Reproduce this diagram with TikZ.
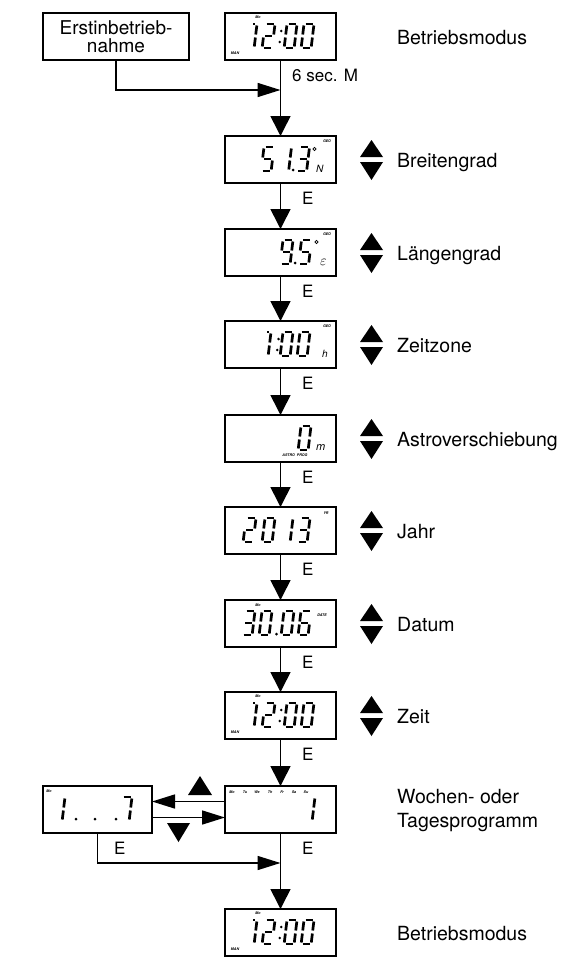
\documentclass[tikz,border=0pt]{standalone}
\usepackage{fontspec}
\setmainfont{TeX Gyre Heros}
\usetikzlibrary{arrows.meta}
\tikzset{
 lcd/.style={draw, line width=1.6pt, minimum width=111pt, minimum height=47pt, inner sep=0pt, outer sep=0pt},
 txtbox/.style={draw, line width=1.6pt, minimum width=146pt, minimum height=47pt, inner sep=0pt, outer sep=0pt, align=center, font=\fontsize{19}{18}\selectfont},
 lbl/.style={anchor=base west, inner sep=0pt, font=\fontsize{19.5}{24}\selectfont},
 elbl/.style={anchor=base west, inner sep=0pt, font=\fontsize{17}{17}\selectfont},
 conn/.style={line width=1.6pt},
 varrow/.style={conn, -{Triangle[length=20pt,width=20pt]}},
 harrow/.style={conn, -{Triangle[length=23pt,width=14pt]}},
 lcdseg/.style={line width=2.7pt, line cap=butt},
 tiny/.style={inner sep=0pt, font=\fontsize{3.6}{4}\selectfont\bfseries\itshape},
 unit/.style={inner sep=0pt, anchor=base west, font=\fontsize{10}{10}\selectfont\itshape},
 updn/.style={fill=black},
}
\def\lsega{\draw[lcdseg] (1.5,0)--(8.5,0);}
\def\lsegb{\draw[lcdseg] (10,1.5)--(10,10.5);}
\def\lsegc{\draw[lcdseg] (10,13.5)--(10,22.5);}
\def\lsegd{\draw[lcdseg] (1.5,24)--(8.5,24);}
\def\lsege{\draw[lcdseg] (0,13.5)--(0,22.5);}
\def\lsegf{\draw[lcdseg] (0,1.5)--(0,10.5);}
\def\lsegg{\draw[lcdseg] (1.5,12)--(8.5,12);}
\def\lsegt{\draw[lcdseg] (6.0,0)--(8.4,0);}
\newcommand\lcddigit[3]{\begin{scope}[shift={(#1,#2)},xslant=0.12]\foreach \s in {#3}{\csname lseg\s\endcsname}\end{scope}}
\newcommand\lcddot[2]{\fill (#1,#2) circle[radius=1.5pt];}
\newcommand\updown[1]{%
 \fill[updn] (360,{#1+21}) -- (383,{#1+21}) -- (371.5,{#1+4}) -- cycle;
 \fill[updn] (360,{#1+26}) -- (383,{#1+26}) -- (371.5,{#1+44}) -- cycle;}
\newcommand\clockdisp[2]{%
 \lcddigit{247}{#1+11}{t,b,c}
 \lcddigit{265}{#1+11}{a,b,g,e,d}
 \fill (281.2,{#1+18}) circle[radius=1.4pt];
 \fill (279.8,{#1+29}) circle[radius=1.4pt];
 \lcddigit{287}{#1+11}{a,b,c,d,e,f}
 \lcddigit{304}{#1+11}{a,b,c,d,e,f}
 \node[tiny] (mo#2) at (258,{#1+4.5}) {Mo};
 \node[tiny] (man#2) at (235,{#1+40.5}) {MAN};}
\begin{document}
\begin{tikzpicture}[x=1pt,y=-1pt]
\useasboundingbox (0,0) rectangle (563,961);
% boxes
\node[txtbox] (erst) at (116,36.5) {Erstinbetrieb-\\nahme};
\node[lcd] (m0) at (280.5,36.5) {};
\node[lcd] (m1) at (280.5,159.5) {};
\node[lcd] (m2) at (280.5,252.5) {};
\node[lcd] (m3) at (280.5,344.5) {};
\node[lcd] (m4) at (280.5,438.5) {};
\node[lcd] (m5) at (280.5,530.5) {};
\node[lcd] (m6) at (280.5,623.5) {};
\node[lcd] (m7) at (280.5,715.5) {};
\node[lcd] (m8) at (280.5,809.5) {};
\node[lcd] (m9) at (280.5,932.5) {};
\node[lcd, minimum width=109pt] (left) at (97.5,809.5) {};
% connectors
\coordinate (j0) at (280.5,90);
\coordinate (j9) at (280.5,863);
\draw[harrow] (erst.south) |- (j0);
\draw[varrow] (m0) -- (m1);
\draw[varrow] (m1) -- (m2);
\draw[varrow] (m2) -- (m3);
\draw[varrow] (m3) -- (m4);
\draw[varrow] (m4) -- (m5);
\draw[varrow] (m5) -- (m6);
\draw[varrow] (m6) -- (m7);
\draw[varrow] (m7) -- (m8);
\draw[varrow] (m8) -- (m9);
\draw[harrow] (left.south) |- (j9);
\draw[harrow] ([yshift=8pt]m8.west) -- ([yshift=8pt]left.east);
\draw[harrow] ([yshift=-8pt]left.east) -- ([yshift=-8pt]m8.west);
\fill[updn] (188,795) -- (212,795) -- (200,776) -- cycle;
\fill[updn] (167,823) -- (190,823) -- (178.5,842) -- cycle;
% connector labels
\node[elbl] (sec) at (292,81) {6 sec. M};
\node[elbl] (e1) at (302,204) {E};
\node[elbl] (e2) at (302,297) {E};
\node[elbl] (e3) at (302,389) {E};
\node[elbl] (e4) at (302,483) {E};
\node[elbl] (e5) at (302,575) {E};
\node[elbl] (e6) at (302,668) {E};
\node[elbl] (e7) at (302,760) {E};
\node[elbl] (e8) at (302,854) {E};
\node[elbl] (eL) at (114,854) {E};
% right labels
\node[lbl] (l0) at (397,44) {Betriebsmodus};
\node[lbl] (l1) at (397,167) {Breitengrad};
\node[lbl] (l2) at (397,260) {Längengrad};
\node[lbl] (l3) at (397,352) {Zeitzone};
\node[lbl] (l4) at (397,446) {Astroverschiebung};
\node[lbl] (l5) at (397,538) {Jahr};
\node[lbl] (l6) at (397,631) {Datum};
\node[lbl] (l7) at (397,723) {Zeit};
\node[lbl] (l8a) at (397,803) {Wochen- oder};
\node[lbl] (l8b) at (397,827) {Tagesprogramm};
\node[lbl] (l9) at (397,940) {Betriebsmodus};
% up/down keys
\updown{136}
\updown{229}
\updown{321}
\updown{415}
\updown{507}
\updown{600}
\updown{692}
% displays
\clockdisp{13}{0}
\clockdisp{692}{7}
\clockdisp{909}{9}
% Breitengrad 51.3 N
\lcddigit{264}{147}{a,f,g,c,d}
\lcddigit{281.5}{147}{b,c}
\lcddot{293}{170}
\lcddigit{299.5}{147}{a,b,g,c,d}
\draw[line width=0.7pt] (314.5,149) circle[radius=1.6pt];
\node[unit] (n1) at (316,172) {N};
\node[tiny] (geo1) at (327,141) {GEO};
% Laengengrad 9.5 E
\lcddigit{283}{240}{a,b,c,d,f,g}
\lcddot{295}{263}
\lcddigit{301.5}{240}{a,f,g,c,d}
\draw[line width=0.7pt] (316.5,242) circle[radius=1.6pt];
\node[unit, font=\fontsize{15}{15}\selectfont] (n2) at (320,265) {$\varepsilon$};
\node[tiny] (geo2) at (327,234) {GEO};
% Zeitzone 1:00 h
\lcddigit{261}{332}{t,b,c}
\fill (278.6,339) circle[radius=1.4pt];
\fill (277.2,350) circle[radius=1.4pt];
\lcddigit{283}{332}{a,b,c,d,e,f}
\lcddigit{300}{332}{a,b,c,d,e,f}
\node[unit] (n3) at (322,357) {h};
\node[tiny] (geo3) at (327,326) {GEO};
% Astro 0 m
\lcddigit{301}{426}{a,b,c,d,e,f}
\node[unit, font=\fontsize{11}{11}\selectfont\itshape] (n4) at (316,450) {m};
\node[tiny] (astro) at (295,455) {ASTRO\ \ PROG};
% Jahr 2013
\lcddigit{246}{518}{a,b,g,e,d}
\lcddigit{265}{518}{a,b,c,d,e,f}
\lcddigit{283}{518}{b,c}
\lcddigit{300}{518}{a,b,g,c,d}
\node[tiny] (yr) at (326,513) {YR};
% Datum 30.06
\lcddigit{245}{611}{a,b,g,c,d}
\lcddigit{262}{611}{a,b,c,d,e,f}
\lcddot{276.5}{634}
\lcddigit{284}{611}{a,b,c,d,e,f}
\lcddigit{301}{611}{a,f,g,e,c,d}
\node[tiny] (mo6) at (258,605) {Mo};
\node[tiny] (date) at (322,615) {DATE};
% Wochen 1
\lcddigit{305}{797}{b,c}
\node[tiny] (d1) at (232,792) {Mo};
\node[tiny] (d2) at (245,792) {Tu};
\node[tiny] (d3) at (257,792) {We};
\node[tiny] (d4) at (270,792) {Th};
\node[tiny] (d5) at (282,792) {Fr};
\node[tiny] (d6) at (294,792) {Sa};
\node[tiny] (d7) at (306,792) {Su};
% left 1 . . . 7
\lcddigit{55}{797}{b,c}
\lcddot{76}{819}
\lcddot{95}{819}
\lcddot{116}{819}
\lcddigit{122}{797}{a,b,c}
\node[tiny] (moL) at (49,791) {Mo};
\end{tikzpicture}
\end{document}
